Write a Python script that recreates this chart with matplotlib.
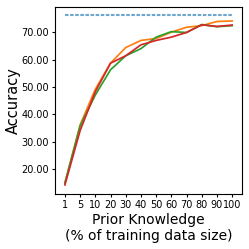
import numpy as np
import matplotlib
matplotlib.use("Agg")
from matplotlib import pyplot as plt
from matplotlib.ticker import FormatStrFormatter

# prior knowledge levels (% of training data)
labels = ["1", "5", "10", "20", "30", "40", "50", "60", "70", "80", "90", "100"]
upper_bound = 76.1

orange_acc = [14.9, 36.2, 49.2, 58.7, 64.4, 67.0, 67.7, 70.0, 71.8, 72.4, 73.9, 74.1]
green_acc = [15.1, 35.8, 47.1, 56.3, 61.4, 64.0, 68.2, 70.2, 69.9, 72.8, 72.0, 72.4]
red_acc = [14.3, 34.1, 48.3, 58.7, 61.4, 65.4, 67.0, 68.2, 69.9, 72.7, 72.1, 72.6]

x = np.arange(len(labels))

fig = plt.figure(figsize=(2.49, 2.49), dpi=100)
ax = fig.add_axes([0.221, 0.221, 0.751, 0.751])

ax.plot(x, [upper_bound] * len(x), linestyle=(0, (1.7, 0.75)), color="C0", alpha=0.65, lw=1.5)
ax.plot(x, orange_acc, color="C1", lw=1.25)
ax.plot(x, green_acc, color="C2", lw=1.25)
ax.plot(x, red_acc, color="C3", lw=1.25)

ax.set_xticks(x)
ax.set_xticklabels(labels)
ax.set_yticks([20, 30, 40, 50, 60, 70])
ax.yaxis.set_major_formatter(FormatStrFormatter("%.2f"))
ax.set_xlim(-0.65, 11.65)
ax.set_ylim(11.0, 79.2)
ax.tick_params(labelsize=7, length=2.5, pad=2)

ax.set_xlabel("Prior Knowledge\n(% of training data size)", fontsize=10, labelpad=2)
ax.set_ylabel("Accuracy", fontsize=10.5, labelpad=0)

fig.savefig("out.png", dpi=100)
